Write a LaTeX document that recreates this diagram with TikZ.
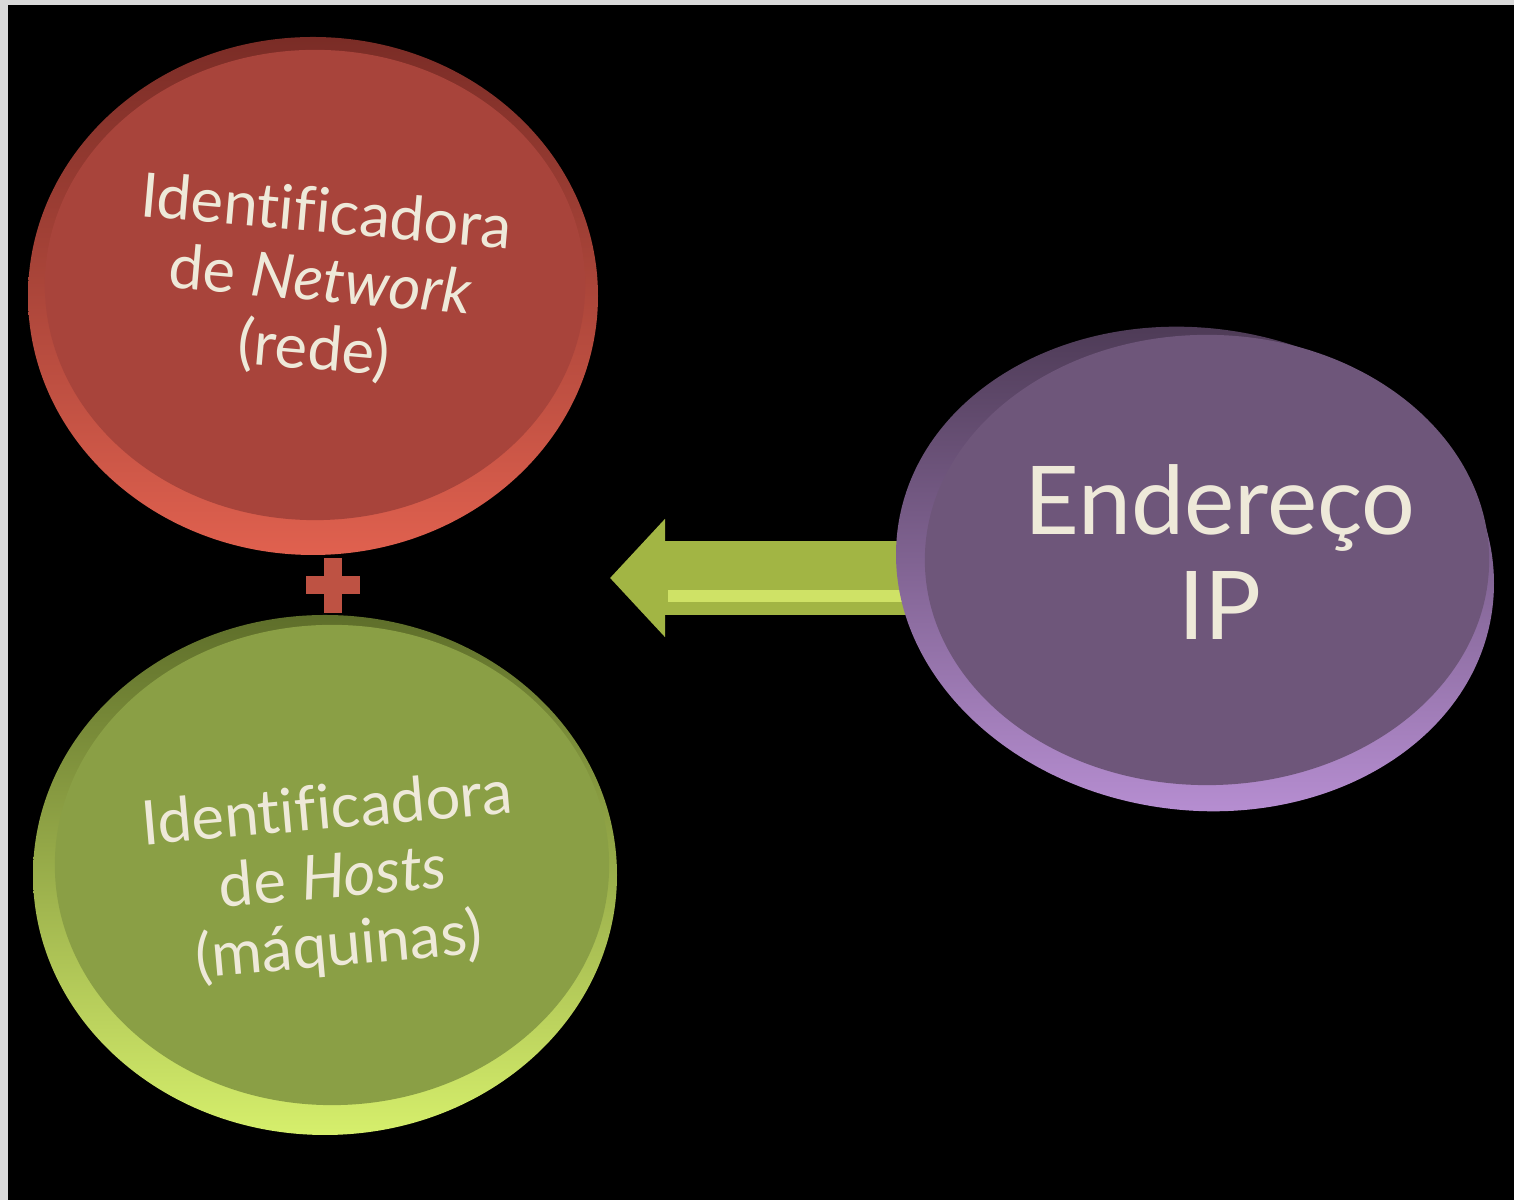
\documentclass[tikz,border=0pt]{standalone}
\usepackage{fontspec}
\setmainfont{Lato}[Ligatures=NoCommon]
\usepackage{tikz}
\definecolor{redrim}{HTML}{E0614F}
\definecolor{redrimdark}{HTML}{7A2C26}
\definecolor{redface}{HTML}{A8443B}
\definecolor{greenrim}{HTML}{D6EF6C}
\definecolor{greenrimdark}{HTML}{5E6E2A}
\definecolor{greenface}{HTML}{8A9F45}
\definecolor{purplerim}{HTML}{B58DD0}
\definecolor{purplerimdark}{HTML}{4A3852}
\definecolor{purpleface}{HTML}{6E567A}
\definecolor{arrowgreen}{HTML}{A2B544}
\definecolor{arrowlight}{HTML}{CFE266}
\definecolor{labeltext}{HTML}{EEE9D9}
\definecolor{framegray}{HTML}{D9D9D9}
\usetikzlibrary{positioning, arrows.meta, shapes.geometric}
\pgfdeclarelayer{bg}
\pgfdeclarelayer{back}
\pgfsetlayers{bg,back,main}

\begin{document}
\begin{tikzpicture}[x=0.01cm, y=0.01cm]
                \tikzstyle{every node}=[font=\fontsize{17.5}{19.5}\selectfont, text=labeltext]
                \tikzstyle{face} = [ellipse, inner sep=0pt, align=center]
                \tikzstyle{bigface} = [face, font=\fontsize{27}{30}\selectfont]
                \tikzstyle{blockarrow} = [line width=0.73cm, arrowgreen, -{Triangle[width=1.15cm, length=0.55cm]}]

                \useasboundingbox (0,0) rectangle (1514,1200);
                \begin{pgfonlayer}{bg}
                \fill[framegray] (0,0) rectangle (1514,1200);
                \fill[black] (8,0) rectangle (1514,1195);
                \end{pgfonlayer}

                % rims under the faces
                \shade[top color=redrimdark, bottom color=redrim] (313,904) ellipse [x radius=285, y radius=259];
                \shade[top color=greenrimdark, bottom color=greenrim] (325,325) ellipse [x radius=292, y radius=260];
                \shade[top color=purplerimdark, bottom color=purplerim, rotate around={-8:(1195,631)}] (1195,631) ellipse [x radius=300, y radius=241];

                \node[face, fill=redface, minimum width=5.4cm, minimum height=4.7cm](rede) at (315,915) {};
                \node[face, fill=greenface, minimum width=5.54cm, minimum height=4.8cm](host) at (332,335) {};
                \node[face, fill=purpleface, minimum width=5.64cm, minimum height=4.5cm](ip) at (1207,640) {};

                \node[rotate=-5, align=center](redetxt) at (320,917) {Identificadora\\de \textit{Network}\\(rede)};
                \node[rotate=5, align=center](hosttxt) at (333,320) {Identificadora\\de \textit{Hosts}\\(máquinas)};
                \node[bigface](iptxt) at (1220,648) {Endereço\\IP};

                % plus between the two left bubbles
                \node[inner sep=0pt, minimum size=0.54cm](plus) at (333,615) {};
                \fill[redrim!85!black] (306,606) rectangle (360,624);
                \fill[redrim!85!black] (324,587) rectangle (342,642);

                % arrow from the IP bubble
                \coordinate (tip) at (610,622);
                \begin{pgfonlayer}{back}
                \draw[blockarrow] (ip.west |- tip) -- (tip);
                \draw[arrowlight, line width=0.12cm] (ip.west |- 0,604) -- (668,604);
                \end{pgfonlayer}
        \end{tikzpicture}
\end{document}
